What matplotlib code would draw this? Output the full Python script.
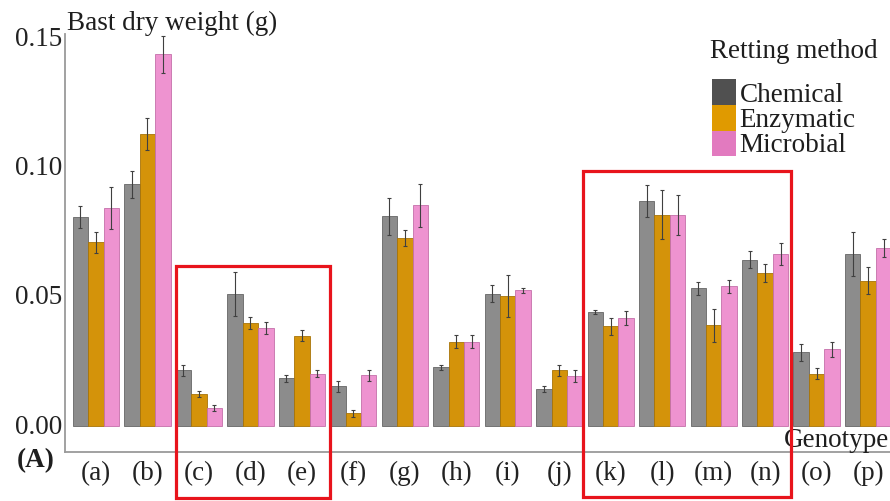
import numpy as np
import matplotlib
matplotlib.use("Agg")
import matplotlib.pyplot as plt
from matplotlib.patches import Rectangle
from matplotlib.transforms import ScaledTranslation

plt.rcParams['font.family'] = ['Liberation Serif', 'DejaVu Serif']

genotypes = ['(a)', '(b)', '(c)', '(d)', '(e)', '(f)', '(g)', '(h)',
             '(i)', '(j)', '(k)', '(l)', '(m)', '(n)', '(o)', '(p)']
methods = ['Chemical', 'Enzymatic', 'Microbial']

chemical = [0.0810, 0.0936, 0.0217, 0.0512, 0.0185, 0.0155, 0.0811, 0.0228,
            0.0512, 0.0144, 0.0443, 0.0870, 0.0533, 0.0644, 0.0286, 0.0666]
chemical_err = [0.0043, 0.0052, 0.0021, 0.0085, 0.0012, 0.0022, 0.0072, 0.0010,
                0.0033, 0.0011, 0.0008, 0.0063, 0.0024, 0.0033, 0.0033, 0.0086]
enzymatic = [0.0711, 0.1130, 0.0125, 0.0400, 0.0350, 0.0050, 0.0728, 0.0327,
             0.0503, 0.0217, 0.0386, 0.0818, 0.0390, 0.0594, 0.0204, 0.0563]
enzymatic_err = [0.0041, 0.0062, 0.0010, 0.0024, 0.0022, 0.0013, 0.0031, 0.0025,
                 0.0081, 0.0021, 0.0033, 0.0095, 0.0063, 0.0035, 0.0023, 0.0052]
microbial = [0.0844, 0.1437, 0.0072, 0.0380, 0.0204, 0.0197, 0.0854, 0.0327,
             0.0526, 0.0194, 0.0419, 0.0818, 0.0542, 0.0666, 0.0297, 0.0688]
microbial_err = [0.0081, 0.0070, 0.0011, 0.0023, 0.0013, 0.0021, 0.0082, 0.0025,
                 0.0009, 0.0023, 0.0026, 0.0077, 0.0025, 0.0042, 0.0029, 0.0035]

yticks = [0.00, 0.05, 0.10, 0.15]
ytick_labels = ['0.00', '0.05', '0.10', '0.15']

bar_colors = ['#8c8c8c', '#d4930a', '#ee93d0']
edge_colors = ['#666666', '#a87408', '#c470aa']
key_colors = ['#505050', '#e09a00', '#e27abf']

W, H = 890, 502
FS = 19.5
fig = plt.figure(figsize=(W / 100, H / 100), dpi=100)

def fx(px):
    return px / W

def fy(py):
    return 1 - py / H

ax = fig.add_axes([fx(65), fy(452.7), fx(899) - fx(65), fy(35) - fy(452.7)])

x = np.arange(len(genotypes))
width = 0.3
series = [(chemical, chemical_err), (enzymatic, enzymatic_err), (microbial, microbial_err)]
for i, (vals, errs) in enumerate(series):
    pos = x + (i - 1) * width
    ax.bar(pos, vals, width=width, color=bar_colors[i], edgecolor=edge_colors[i],
           linewidth=0.6, zorder=2)
    ax.errorbar(pos, vals, yerr=errs, fmt='none', ecolor='#404040',
                elinewidth=0.8, capsize=1.5, capthick=0.8, zorder=3)

ax.set_xlim(-0.6, 15.6)
ax.set_ylim(-0.0098, 0.1516)
ax.set_xticks(x)
ax.set_xticklabels(genotypes, fontsize=FS)
ax.set_yticks(yticks)
ax.set_yticklabels(ytick_labels, fontsize=FS)
ax.tick_params(axis='both', length=0, colors='#222222')
ax.tick_params(axis='y', pad=1.8)
ax.tick_params(axis='x', pad=6)
shift = ScaledTranslation(0, 3 / 100, fig.dpi_scale_trans)
for lab in ax.get_yticklabels():
    lab.set_transform(lab.get_transform() + shift)
for s in ['top', 'right']:
    ax.spines[s].set_visible(False)
for s in ['left', 'bottom']:
    ax.spines[s].set_color('#9a9a9a')
    ax.spines[s].set_linewidth(1.3)
ax.set_facecolor('white')

# Axis titles
fig.text(fx(67), fy(30.5), 'Bast dry weight (g)', fontsize=FS, ha='left',
         va='baseline', color='#1e1e1e')
fig.text(fx(889), fy(446.7), 'Genotype', fontsize=FS, ha='right',
         va='baseline', color='#1e1e1e')
fig.text(fx(17), fy(467), '(A)', fontsize=FS, fontweight='bold', ha='left',
         va='baseline', color='#1e1e1e')

# Legend
fig.text(fx(710), fy(58.5), 'Retting method', fontsize=FS, ha='left',
         va='baseline', color='#1e1e1e')
key_bounds = [80, 106, 132, 157]
baselines = [101.7, 126.7, 151.7]
for i, m in enumerate(methods):
    y0, y1 = key_bounds[i], key_bounds[i + 1]
    fig.patches.append(Rectangle((fx(711.5), fy(y1)), fx(735.5) - fx(711.5),
                                 fy(y0) - fy(y1), transform=fig.transFigure,
                                 facecolor=key_colors[i], edgecolor='none'))
    fig.text(fx(739.5), fy(baselines[i]), m, fontsize=FS, ha='left',
             va='baseline', color='#1e1e1e')

# Red highlight boxes
for (x0, y0, x1, y1) in [(176, 267, 330, 499), (583, 172, 791, 498)]:
    fig.patches.append(Rectangle((fx(x0), fy(y1)), fx(x1) - fx(x0), fy(y0) - fy(y1),
                                 transform=fig.transFigure, facecolor='none',
                                 edgecolor='#e8141c', linewidth=2.3, zorder=10))

fig.savefig('out.png', dpi=100)
